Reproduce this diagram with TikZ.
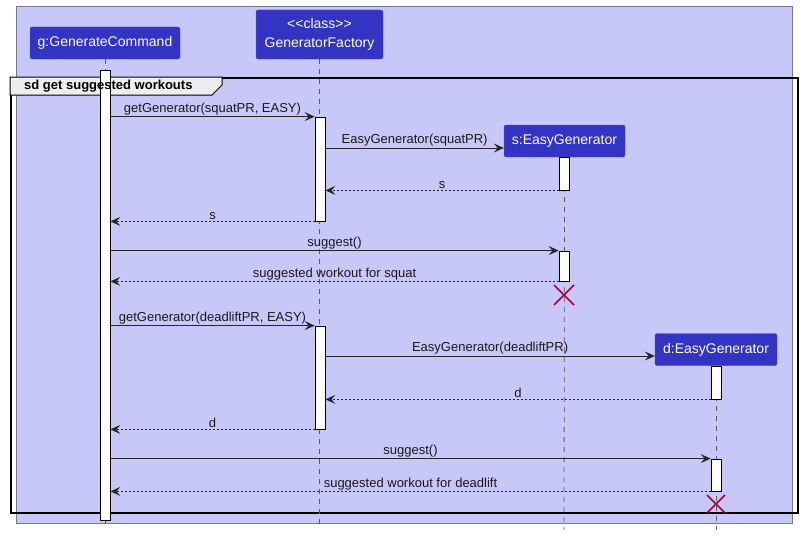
\documentclass[tikz,border=0pt]{standalone}
\usepackage{fontspec}
\setmainfont{Liberation Sans}
\usetikzlibrary{arrows.meta}
\definecolor{bgc}{RGB}{200,200,248}
\definecolor{bgline}{RGB}{120,120,140}
\definecolor{partc}{RGB}{51,51,196}
\definecolor{partline}{RGB}{80,80,170}
\definecolor{tabc}{RGB}{238,238,238}
\definecolor{xc}{RGB}{168,0,54}
\definecolor{lifec}{RGB}{90,90,90}
\tikzset{
  part/.style={draw=partline, fill=partc, rounded corners=2pt, text=white,
    font=\fontsize{14}{19}\selectfont, align=center, inner sep=0pt, minimum height=32pt},
  actbar/.style={draw=black, fill=white, line width=0.8pt, minimum width=10pt, inner sep=0pt},
  life/.style={draw=lifec, dash pattern=on 5pt off 5pt, line width=0.8pt},
  msg/.style={-{Stealth[length=10pt,width=9pt,inset=4pt]}, line width=0.8pt, draw=black!85},
  ret/.style={msg, dash pattern=on 2pt off 2pt},
  lbl/.style={font=\fontsize{13}{15}\selectfont, above, inner sep=1.2pt, text=black!90},
  destroy/.style={draw=xc, line width=1.5pt},
}
\begin{document}
\begin{tikzpicture}[x=1pt,y=-1pt]
\useasboundingbox (0,0) rectangle (802,535);
% background
\draw[fill=bgc, draw=bgline, line width=0.8pt] (16,6) rectangle (792,523);
% participants
\node[part, minimum width=150pt] (gbox) at (105,43) {g:GenerateCommand};
\node[part, minimum width=127pt, minimum height=49pt] (fbox) at (319.5,34.5) {<\kern0pt<class>\kern0pt>\\GeneratorFactory};
% lifeline ends
\coordinate (gend) at (105,527);
\coordinate (fend) at (319.5,527);
\coordinate (send) at (564,530);
\coordinate (dend) at (716,530);
% frame
\node[draw, line width=1.5pt, minimum width=787pt, minimum height=435pt, anchor=north west, inner sep=0pt] (frame) at (10,77) {};
\draw[fill=tabc, line width=1pt] (10,77) -- (222,77) -- (222,85) -- (212,95) -- (10,95) -- cycle;
% created participants
\node[part, minimum width=121pt] (sbox) at (564.5,141) {s:EasyGenerator};
\node[part, minimum width=122pt] (dbox) at (716,349.5) {d:EasyGenerator};
% lifelines
\draw[life] (gbox.south) -- (gend);
\draw[life] (fbox.south) -- (fend);
\draw[life] (sbox.south) -- (send);
\draw[life] (dbox.south) -- (dend);
% activations
\node[actbar, minimum height=450pt] (ga) at (105,295) {};
\node[actbar, minimum height=104pt] (fa1) at (320,169) {};
\node[actbar, minimum height=103pt] (fa2) at (320,377.5) {};
\node[actbar, minimum height=33pt] (sa1) at (564,173.5) {};
\node[actbar, minimum height=30pt] (sa2) at (564,266) {};
\node[actbar, minimum height=33pt] (da1) at (716,382.5) {};
\node[actbar, minimum height=32pt] (da2) at (716,475) {};
% frame title on top
\node[font=\fontsize{13}{15}\selectfont\bfseries, anchor=west, inner sep=0pt] (ftitle) at (24,86.5) {sd get suggested workouts};
% messages
\draw[msg] (ga.east |- fa1.north) -- node[lbl] {getGenerator(squatPR, EASY)} (fa1.north west);
\draw[msg] ([yshift=-7pt]fa1.east |- sbox.west) -- node[lbl] {EasyGenerator(squatPR)} ([yshift=-7pt]sbox.west);
\draw[ret] (sa1.south west) -- node[lbl] {s} (fa1.east |- sa1.south);
\draw[ret] (fa1.south west) -- node[lbl] {s} (ga.east |- fa1.south);
\draw[msg] (ga.east |- sa2.north) -- node[lbl] {suggest()} (sa2.north west);
\draw[ret] (sa2.south west) -- node[lbl] {suggested workout for squat} (ga.east |- sa2.south);
\draw[msg] (ga.east |- fa2.north) -- node[lbl] {getGenerator(deadliftPR, EASY)} (fa2.north west);
\draw[msg] ([yshift=-6.5pt]fa2.east |- dbox.west) -- node[lbl] {EasyGenerator(deadliftPR)} ([yshift=-6.5pt]dbox.west);
\draw[ret] (da1.south west) -- node[lbl] {d} (fa2.east |- da1.south);
\draw[ret] (fa2.south west) -- node[lbl] {d} (ga.east |- fa2.south);
\draw[msg] (ga.east |- da2.north) -- node[lbl] {suggest()} (da2.north west);
\draw[ret] (da2.south west) -- node[lbl] {suggested workout for deadlift} (ga.east |- da2.south);
% destroy marks
\draw[destroy] (554,285) -- (574,305) (554,305) -- (574,285);
\draw[destroy] (707,495) -- (725,513) (707,513) -- (725,495);
\end{tikzpicture}
\end{document}
